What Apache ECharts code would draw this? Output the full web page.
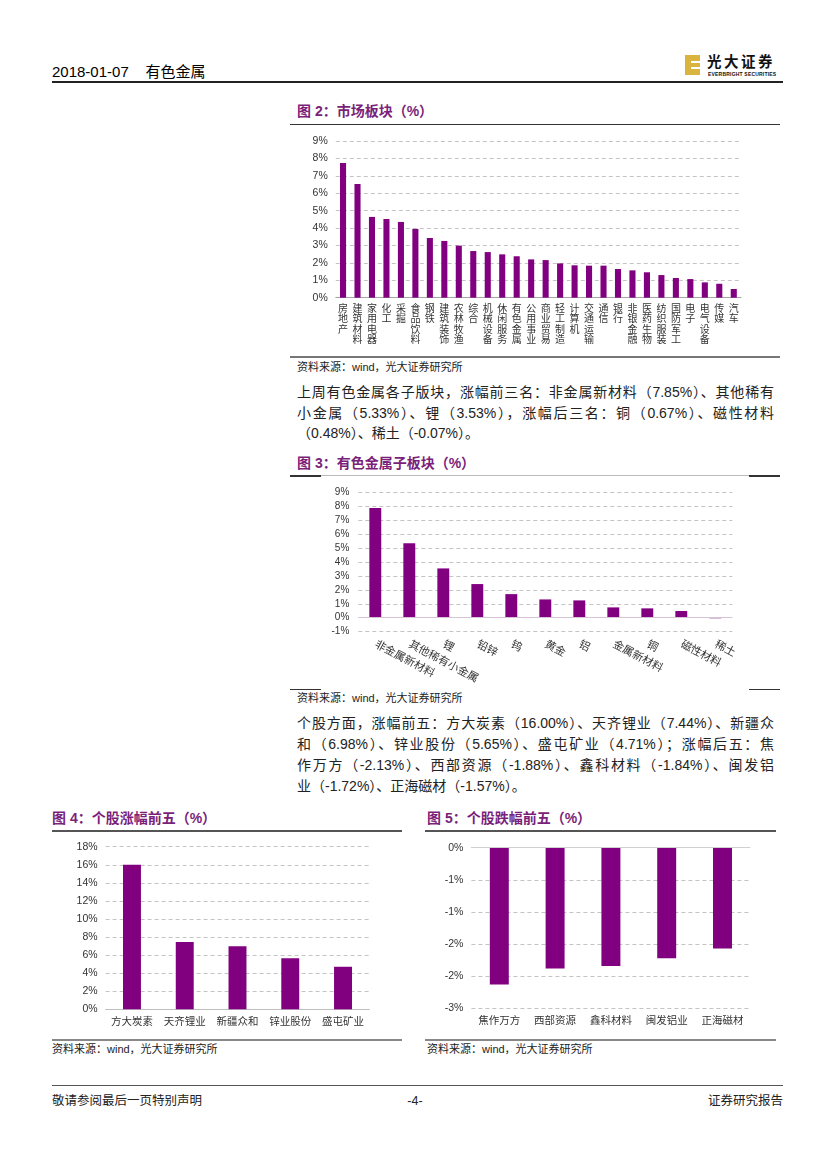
<!DOCTYPE html>
<html>
<head>
<meta charset="utf-8">
<script src="https://cdn.jsdelivr.net/npm/echarts@6/dist/echarts.min.js"></script>
<style>
  html, body { margin:0; padding:0; background:#fff; }
  #page { position:relative; width:827px; height:1169px; overflow:hidden; background:#fff;
          font-family:"Liberation Sans","Noto Sans CJK SC",sans-serif; color:#000; }
  .abs { position:absolute; }
  .title { position:absolute; font-family:"Liberation Sans","Noto Sans CJK SC",sans-serif; font-weight:700;
           font-size:14px; color:#7a1f7a; white-space:nowrap; line-height:16px; }
  .src { position:absolute; font-size:11px; color:#222; white-space:nowrap; line-height:14px; }
  .pl { position:absolute; left:297px; width:477px; font-size:14px; line-height:21px; height:21px;
        white-space:nowrap; text-align:justify; text-align-last:justify; color:#222; }
  .pl.last { text-align:left; text-align-last:left; }
  .hl { position:absolute; }
  .chart { position:absolute; }
</style>
</head>
<body>
<div id="page">
  <!-- header -->
  <div class="abs" style="left:52px;top:63px;font-size:15px;line-height:18px;white-space:nowrap;">2018-01-07&nbsp;&nbsp;&nbsp;&nbsp;有色金属</div>
  <div class="hl" style="left:52px;top:81px;width:731px;height:1.5px;background:#222;"></div>
  <!-- logo -->
  <div class="abs" style="left:685px;top:55px;width:15px;height:20px;background:#d9b540;"></div>
  <div class="abs" style="left:691px;top:61px;width:9px;height:1.5px;background:#fff;"></div>
  <div class="abs" style="left:691px;top:67px;width:9px;height:1.5px;background:#fff;"></div>
  <div class="abs" style="left:707px;top:52px;font-size:14.5px;font-weight:700;letter-spacing:2.5px;line-height:18px;white-space:nowrap;color:#111;font-family:'Noto Sans CJK SC',sans-serif;">光大证券</div>
  <div class="abs" style="left:708px;top:71px;font-size:5px;font-weight:700;line-height:6px;white-space:nowrap;color:#111;letter-spacing:0.2px;">EVERBRIGHT SECURITIES</div>

  <!-- Figure 2 -->
  <div class="title" style="left:297px;top:103px;">图 2：市场板块（%）</div>
  <div class="hl" style="left:290px;top:123.5px;width:490px;height:1.5px;background:#333;"></div>
  <div id="fig2" class="chart" style="left:290px;top:130px;width:490px;height:224px;"></div>
  <div class="hl" style="left:290px;top:355.5px;width:490px;height:2px;background:#777;"></div>
  <div class="src" style="left:297px;top:359.5px;">资料来源：wind，光大证券研究所</div>

  <div class="pl" style="top:381.5px;">上周有色金属各子版块，涨幅前三名：非金属新材料（7.85%）、其他稀有</div>
  <div class="pl" style="top:402.5px;">小金属（5.33%）、锂（3.53%），涨幅后三名：铜（0.67%）、磁性材料</div>
  <div class="pl last" style="top:422.5px;">（0.48%）、稀土（-0.07%）。</div>

  <!-- Figure 3 -->
  <div class="title" style="left:297px;top:455px;">图 3：有色金属子板块（%）</div>
  <div class="hl" style="left:290px;top:475px;width:490px;height:1px;background:#bbb;"></div>
  <div class="hl" style="left:290px;top:475px;width:31px;height:1.5px;background:#333;"></div>
  <div class="hl" style="left:749px;top:475px;width:31px;height:1.5px;background:#333;"></div>
  <div id="fig3" class="chart" style="left:290px;top:480px;width:490px;height:208px;"></div>
  <div class="hl" style="left:290px;top:688.5px;width:31px;height:1.5px;background:#333;"></div>
  <div class="hl" style="left:749px;top:688.5px;width:31px;height:1.5px;background:#333;"></div>
  <div class="src" style="left:297px;top:691px;">资料来源：wind，光大证券研究所</div>

  <div class="pl" style="top:712.5px;">个股方面，涨幅前五：方大炭素（16.00%）、天齐锂业（7.44%）、新疆众</div>
  <div class="pl" style="top:733.5px;">和（6.98%）、锌业股份（5.65%）、盛屯矿业（4.71%）；涨幅后五：焦</div>
  <div class="pl" style="top:754.5px;">作万方（-2.13%）、西部资源（-1.88%）、鑫科材料（-1.84%）、闽发铝</div>
  <div class="pl last" style="top:775.5px;">业（-1.72%）、正海磁材（-1.57%）。</div>

  <!-- Figure 4 -->
  <div class="title" style="left:52px;top:810px;">图 4：个股涨幅前五（%）</div>
  <div class="hl" style="left:52px;top:830px;width:350px;height:1.5px;background:#555;"></div>
  <div id="fig4" class="chart" style="left:45px;top:838px;width:350px;height:198px;"></div>
  <div class="hl" style="left:52px;top:1038.5px;width:350px;height:2px;background:#888;"></div>
  <div class="src" style="left:52px;top:1042px;">资料来源：wind，光大证券研究所</div>

  <!-- Figure 5 -->
  <div class="title" style="left:427px;top:810px;">图 5：个股跌幅前五（%）</div>
  <div class="hl" style="left:425px;top:830px;width:351px;height:1.5px;background:#555;"></div>
  <div id="fig5" class="chart" style="left:420px;top:838px;width:360px;height:198px;"></div>
  <div class="hl" style="left:425px;top:1038.5px;width:351px;height:2px;background:#888;"></div>
  <div class="src" style="left:427px;top:1042px;">资料来源：wind，光大证券研究所</div>

  <!-- footer -->
  <div class="hl" style="left:52px;top:1084.5px;width:731px;height:1.5px;background:#555;"></div>
  <div class="abs" style="left:52px;top:1093px;font-size:12.5px;line-height:16px;white-space:nowrap;color:#222;">敬请参阅最后一页特别声明</div>
  <div class="abs" style="left:395px;width:40px;text-align:center;top:1093px;font-size:12.5px;line-height:16px;color:#222;">-4-</div>
  <div class="abs" style="left:633px;width:150px;text-align:right;top:1093px;font-size:12.5px;line-height:16px;white-space:nowrap;color:#222;">证券研究报告</div>
</div>

<script>
// ---------- data ----------
const fig2Categories = ['房地产','建筑材料','家用电器','化工','采掘','食品饮料','钢铁','建筑装饰','农林牧渔','综合','机械设备','休闲服务','有色金属','公用事业','商业贸易','轻工制造','计算机','交通运输','通信','银行','非银金融','医药生物','纺织服装','国防军工','电子','电气设备','传媒','汽车'];
const fig2Values = [7.74, 6.53, 4.64, 4.52, 4.35, 3.95, 3.43, 3.26, 2.99, 2.68, 2.62, 2.49, 2.38, 2.20, 2.16, 1.97, 1.86, 1.84, 1.84, 1.65, 1.57, 1.46, 1.30, 1.13, 1.07, 0.88, 0.80, 0.50];

const fig3Categories = ['非金属新材料','其他稀有小金属','锂','铅锌','钨','黄金','铝','金属新材料','铜','磁性材料','稀土'];
const fig3Values = [7.85, 5.33, 3.53, 2.41, 1.69, 1.31, 1.24, 0.74, 0.67, 0.48, -0.07];

const fig4Categories = ['方大炭素','天齐锂业','新疆众和','锌业股份','盛屯矿业'];
const fig4Values = [16.00, 7.44, 6.98, 5.65, 4.71];

const fig5Categories = ['焦作万方','西部资源','鑫科材料','闽发铝业','正海磁材'];
const fig5Values = [-2.13, -1.88, -1.84, -1.72, -1.57];
const fig5TickValues = [-2.5, -2, -1.5, -1, -0.5, 0];
const fig5TickLabels = ['-3%', '-2%', '-2%', '-1%', '-1%', '0%'];

// ---------- styles ----------
const PURPLE = '#800080';
const NEG_PURPLE = '#c9a3c9';
const LABEL_COLOR = '#333';
const FONT = '"Liberation Sans","Noto Sans CJK SC",sans-serif';
const gridDash = { type: [4, 3], color: '#c4c4c4', width: 1 };

function zeroLine(color) {
  return { silent: true, symbol: 'none', label: { show: false },
           lineStyle: { color: color, type: 'solid', width: 1 }, data: [{ yAxis: 0 }] };
}

// Figure 2
echarts.init(document.getElementById('fig2')).setOption({
  animation: false,
  textStyle: { fontFamily: FONT },
  grid: { left: 45.8, right: 39, top: 11, bottom: 56.3 },
  xAxis: {
    type: 'category', data: fig2Categories,
    axisTick: { show: false },
    axisLine: { lineStyle: { color: '#a6a6a6' } },
    axisLabel: { interval: 0, formatter: v => v.split('').join('\n'), fontSize: 10, lineHeight: 10.5,
                 color: LABEL_COLOR, margin: 6, fontFamily: FONT }
  },
  yAxis: {
    type: 'value', min: 0, max: 9, interval: 1,
    axisLine: { show: false }, axisTick: { show: false },
    axisLabel: { formatter: '{value}%', fontSize: 10.5, color: LABEL_COLOR, margin: 8, fontFamily: FONT },
    splitLine: { lineStyle: gridDash }
  },
  series: [{ type: 'bar', data: fig2Values, barWidth: '42%', itemStyle: { color: PURPLE } }]
});

// Figure 3
echarts.init(document.getElementById('fig3')).setOption({
  animation: false,
  textStyle: { fontFamily: FONT },
  grid: { left: 68.3, right: 47.7, top: 12, bottom: 56.3 },
  xAxis: {
    type: 'category', data: fig3Categories,
    axisTick: { show: false },
    axisLine: { show: false, onZero: false },
    axisLabel: { interval: 0, rotate: -28, fontSize: 11, color: LABEL_COLOR, margin: 12, fontFamily: FONT }
  },
  yAxis: {
    type: 'value', min: -1, max: 9, interval: 1,
    axisLine: { show: false }, axisTick: { show: false },
    axisLabel: { formatter: '{value}%', fontSize: 10, color: LABEL_COLOR, margin: 9, fontFamily: FONT },
    splitLine: { lineStyle: gridDash }
  },
  series: [{
    type: 'bar', data: fig3Values, barWidth: '35%',
    itemStyle: { color: p => (p.value < 0 ? NEG_PURPLE : PURPLE) },
    markLine: zeroLine('#d6c4d6')
  }]
});

// Figure 4
echarts.init(document.getElementById('fig4')).setOption({
  animation: false,
  textStyle: { fontFamily: FONT },
  grid: { left: 60.6, right: 25.6, top: 8.7, bottom: 26.7 },
  xAxis: {
    type: 'category', data: fig4Categories,
    axisTick: { show: false },
    axisLine: { lineStyle: { color: '#bfbfbf' } },
    axisLabel: { interval: 0, fontSize: 10.5, color: LABEL_COLOR, margin: 8, fontFamily: FONT }
  },
  yAxis: {
    type: 'value', min: 0, max: 18, interval: 2,
    axisLine: { show: false }, axisTick: { show: false },
    axisLabel: { formatter: '{value}%', fontSize: 10.5, color: LABEL_COLOR, margin: 8, fontFamily: FONT },
    splitLine: { lineStyle: gridDash }
  },
  series: [{ type: 'bar', data: fig4Values, barWidth: '34%', itemStyle: { color: PURPLE } }]
});

// Figure 5
echarts.init(document.getElementById('fig5')).setOption({
  animation: false,
  textStyle: { fontFamily: FONT },
  grid: { left: 51.4, right: 29.6, top: 9.7, bottom: 27.7 },
  xAxis: {
    type: 'category', data: fig5Categories,
    axisTick: { show: false },
    axisLine: { show: false, onZero: false },
    axisLabel: { interval: 0, fontSize: 10.5, color: LABEL_COLOR, margin: 8, fontFamily: FONT }
  },
  yAxis: {
    type: 'value', min: -2.5, max: 0, interval: 0.5,
    axisLine: { show: false }, axisTick: { show: false },
    axisLabel: {
      formatter: v => { const i = fig5TickValues.findIndex(t => Math.abs(t - v) < 1e-9); return i >= 0 ? fig5TickLabels[i] : ''; },
      fontSize: 10.5, color: LABEL_COLOR, margin: 8, fontFamily: FONT
    },
    splitLine: { lineStyle: gridDash }
  },
  series: [{
    type: 'bar', data: fig5Values, barWidth: '34%', itemStyle: { color: PURPLE },
    markLine: zeroLine('#d0d0d0')
  }]
});
</script>
</body>
</html>
